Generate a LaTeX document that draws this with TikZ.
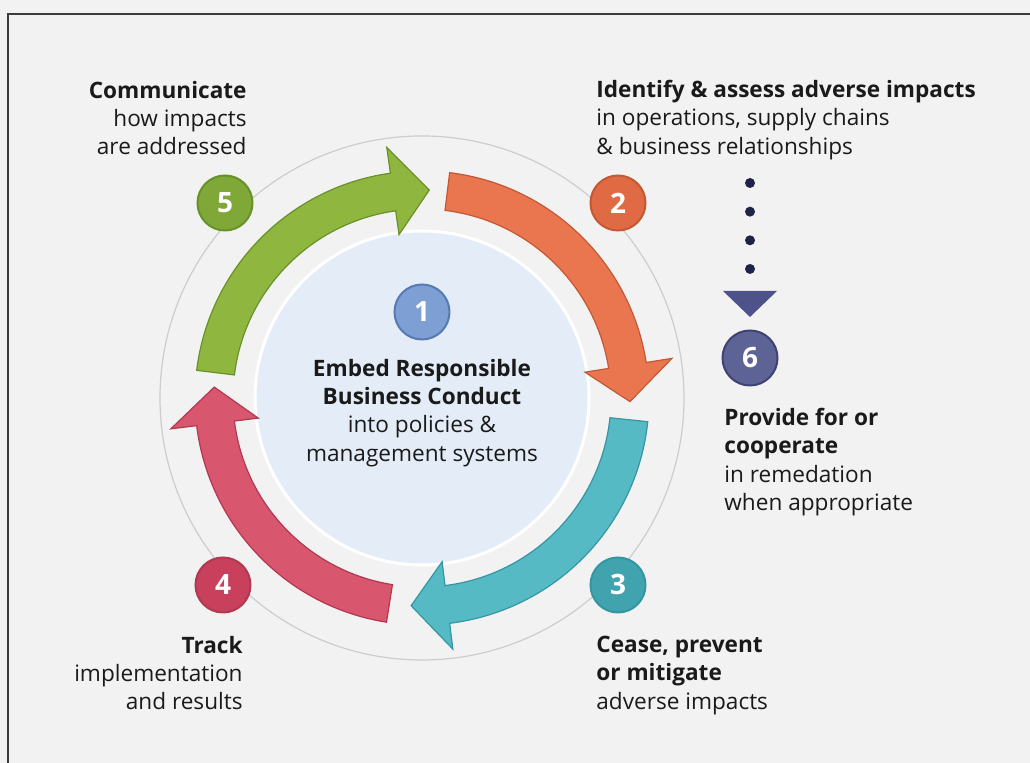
\documentclass[tikz,border=0pt]{standalone}
\usepackage{fontspec}
\setmainfont{Open Sans}
\usepackage{tikz}
\definecolor{bgcol}{RGB}{242, 242, 242}
\definecolor{framecol}{RGB}{60, 60, 60}
\definecolor{ringgray}{RGB}{205, 205, 205}
\definecolor{corefill}{RGB}{228, 237, 247}
\definecolor{textdark}{RGB}{26, 26, 26}
\definecolor{greenarr}{RGB}{143, 183, 64}
\definecolor{greenedge}{RGB}{104, 145, 40}
\definecolor{greennum}{RGB}{127, 168, 56}
\definecolor{orangearr}{RGB}{234, 118, 80}
\definecolor{orangeedge}{RGB}{196, 88, 52}
\definecolor{orangenum}{RGB}{224, 106, 68}
\definecolor{tealarr}{RGB}{86, 186, 197}
\definecolor{tealedge}{RGB}{52, 150, 162}
\definecolor{tealnum}{RGB}{64, 163, 174}
\definecolor{pinkarr}{RGB}{217, 86, 111}
\definecolor{pinkedge}{RGB}{178, 56, 80}
\definecolor{pinknum}{RGB}{200, 64, 91}
\definecolor{bluenum}{RGB}{126, 159, 211}
\definecolor{blueedge}{RGB}{88, 122, 180}
\definecolor{slatenum}{RGB}{94, 99, 149}
\definecolor{slateedge}{RGB}{62, 67, 115}
\definecolor{navydot}{RGB}{31, 35, 71}
\definecolor{trifill}{RGB}{77, 82, 138}
\usetikzlibrary{arrows.meta, positioning, calc}

\tikzset{
    numdot/.style={circle, minimum size=27.5pt, inner sep=0pt, line width=1pt,
                   text=white, font=\fontsize{14pt}{14pt}\selectfont\bfseries},
    stagetext/.style={inner sep=0pt, text=textdark,
                      font=\fontsize{11.3pt}{14.1pt}\selectfont},
    dotline/.style={navydot, line width=5pt, line cap=round,
                    dash pattern=on 0pt off 14.33pt}
}

\begin{document}
\begin{tikzpicture}[x=0.5pt, y=0.5pt]
    \fill[bgcol] (0,0) rectangle (1030,763);
    \useasboundingbox (0,0) rectangle (1030,763);
    \draw[framecol, line width=1pt] (8,0) -- (8,749) -- (1030,749);

    \coordinate (C) at (422,365);
    \draw[ringgray, line width=0.6pt] (C) circle[radius=262];
    \filldraw[fill=corefill, draw=white, line width=1.5pt] (C) circle[radius=167];

    % the four cycle arrows
    \begin{scope}[shift={(C)}]
        \foreach \tail/\tip/\fc/\ec in {173/88/greenarr/greenedge, 83/-1/orangearr/orangeedge,
                                        -6/-93/tealarr/tealedge, -99/-183/pinkarr/pinkedge}{
            \pgfmathsetmacro{\base}{\tip+10}
            \filldraw[fill=\fc, draw=\ec, line width=0.6pt]
                (\tail:227) arc[start angle=\tail, end angle=\base, radius=227]
                -- (\base:253) -- (\tip:208) -- (\base:165) -- (\base:189)
                arc[start angle=\base, end angle=\tail, radius=189] -- cycle;
        }
    \end{scope}

    \node[numdot, fill=bluenum, draw=blueedge] (n1) at (422,451) {1};
    \node[numdot, fill=orangenum, draw=orangeedge] (n2) at (618,560) {2};
    \node[numdot, fill=tealnum, draw=tealedge] (n3) at (618,178) {3};
    \node[numdot, fill=pinknum, draw=pinkedge] (n4) at (223,178) {4};
    \node[numdot, fill=greennum, draw=greenedge] (n5) at (225,560) {5};
    \node[numdot, fill=slatenum, draw=slateedge] (n6) at (750,405) {6};

    \node[stagetext, anchor=north, align=center] (embed) at (422,404)
        {\textbf{Embed Responsible}\\\textbf{Business Conduct}\\into policies \&\\management systems};
    \node[stagetext, anchor=north east, align=right] (communicate) at (247,682)
        {\textbf{Communicate}\\how impacts\\are addressed};
    \node[stagetext, anchor=north west, align=left] (identify) at (596,683)
        {\textbf{Identify \& assess adverse impacts}\\in operations, supply chains\\\& business relationships};
    \node[stagetext, anchor=north west, align=left] (remedy) at (724,355)
        {\textbf{Provide for or}\\\textbf{cooperate}\\in remedation\\when appropriate};
    \node[stagetext, anchor=north west, align=left] (cease) at (596,127)
        {\textbf{Cease, prevent}\\\textbf{or mitigate}\\adverse impacts};
    \node[stagetext, anchor=north east, align=right] (track) at (243,127)
        {\textbf{Track}\\implementation\\and results};

    % dotted lead from step 2 down to step 6
    \coordinate (dotstart) at (750,580);
    \coordinate (tri) at (750,472);
    \draw[dotline] (dotstart) -- (tri);
    \fill[trifill] ($(tri)+(-27,0)$) -- ($(tri)+(27,0)$) -- ($(tri)+(0,-26)$) -- cycle;
\end{tikzpicture}
\end{document}
